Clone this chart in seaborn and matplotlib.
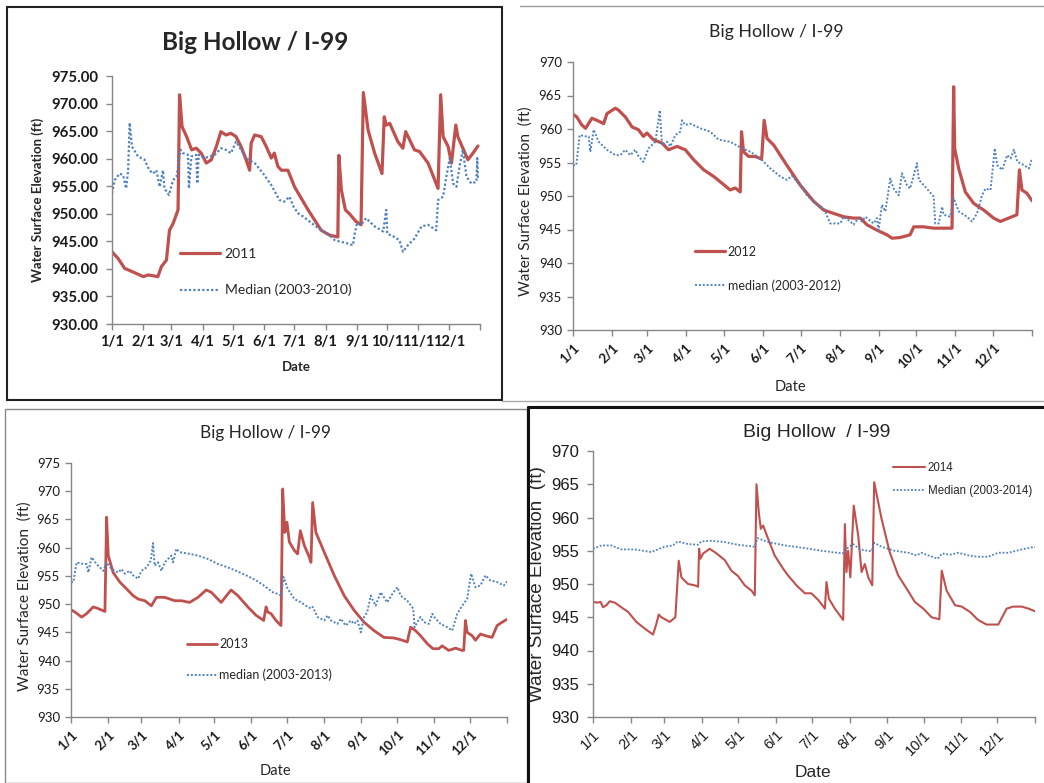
import numpy as np
import pandas as pd
import matplotlib
matplotlib.use("Agg")
import matplotlib.pyplot as plt
from matplotlib.lines import Line2D
from matplotlib.patches import Rectangle
import seaborn as sns

# ---------------- data (day of year, water surface elevation in ft) ----------------
month_ticks = [0, 31, 59, 90, 120, 151, 181, 212, 243, 273, 304, 334, 365]
month_labels = ["1/1", "2/1", "3/1", "4/1", "5/1", "6/1", "7/1", "8/1", "9/1",
                "10/1", "11/1", "12/1", ""]

d11 = [0, 6, 12.5, 22.5, 31, 36, 45.5, 49, 54, 57, 60.5, 65.5, 67, 69.5, 74, 79, 83.5, 88.5,
       93.5, 98.5, 103.5, 108, 113, 118, 123, 128, 133, 136.5, 138, 141.5, 148, 153, 158, 161,
       164.5, 168, 174.5, 181, 194.5, 207.5, 216, 224, 225, 227.5, 231.5, 235.5, 242, 247,
       249.3, 254, 260.5, 267.8, 270, 272, 275.5, 283.5, 288.5, 291.3, 300, 305, 313.5, 323.4,
       326, 328.4, 333.4, 336.7, 341, 343, 348, 353, 358, 363]
v11 = [943.1, 941.9, 940.1, 939.3, 938.6, 938.9, 938.6, 940.4, 941.6, 947.0, 948.2, 950.7,
       971.6, 965.8, 964.0, 961.6, 961.9, 961.0, 959.2, 959.8, 962.2, 964.9, 964.3, 964.6,
       964.0, 962.2, 959.8, 957.9, 962.8, 964.3, 964.0, 962.2, 960.1, 961.0, 958.6, 957.9,
       957.9, 954.9, 950.7, 947.0, 946.1, 945.8, 960.6, 954.3, 950.7, 950.0, 948.6, 948.0,
       972.0, 965.2, 961.0, 957.3, 967.6, 966.1, 966.4, 963.1, 961.9, 964.9, 961.6, 961.3,
       959.2, 954.6, 971.6, 964.0, 962.2, 959.2, 966.1, 964.0, 961.9, 959.8, 961.0, 962.3]

dm10 = [0, 2.6, 7.6, 11, 14, 16, 17.5, 19.8, 25.8, 32.4, 37, 40.7, 44, 47.3, 50.6, 52, 56.5,
        60.5, 64, 66, 68, 70.4, 75.4, 76.3, 78.7, 83.6, 84.6, 86, 92, 101.8, 108.4, 113, 118,
        123, 128, 135, 141.5, 150, 158, 166, 171, 176, 180, 184.5, 189.6, 198, 207.6, 214, 221,
        227.5, 234, 239, 240.7, 243, 247, 252, 260.6, 269, 272, 273, 280, 285, 288.7, 293.5,
        300, 307, 313.5, 321.6, 323.4, 328.4, 331.6, 335, 338.3, 341.6, 345, 348, 351.6, 356.4,
        361.4, 362.3, 363]
vm10 = [953.7, 956.1, 957.3, 957.0, 954.6, 957.9, 966.5, 962.2, 960.4, 959.8, 957.9, 957.3,
        957.9, 954.9, 957.9, 954.6, 953.4, 956.1, 956.7, 959.2, 961.6, 961.0, 960.7, 954.6,
        960.4, 960.7, 955.5, 960.7, 960.1, 960.7, 961.9, 961.6, 961.0, 963.1, 961.6, 959.8,
        959.2, 957.3, 955.2, 952.5, 952.2, 953.1, 951.3, 950.1, 949.5, 948.3, 947.0, 946.4,
        945.2, 944.9, 944.6, 944.3, 946.4, 948.3, 948.0, 949.2, 947.7, 946.8, 950.7, 946.4,
        945.8, 945.2, 943.1, 944.3, 945.5, 947.7, 948.0, 947.0, 952.5, 953.1, 956.7, 960.1,
        955.5, 954.9, 958.9, 961.6, 956.7, 955.5, 955.8, 960.1, 956.1]

d12 = [0, 3, 7, 10, 15, 19, 24.4, 27, 33.7, 36.3, 41.6, 47, 52, 56, 58.8, 64, 70.8, 76, 82.7,
       89.3, 96, 104, 112, 118.5, 125, 129, 133, 134, 135.6, 139.7, 145, 150, 152, 154.3,
       159.6, 170, 180.8, 191.4, 199.4, 207.3, 215.3, 223, 228.5, 233.8, 241.7, 249.7, 253.7,
       260, 268, 271, 278.8, 286.8, 294.7, 301.4, 302.7, 303.5, 306.7, 312, 318.6, 326.6,
       334.5, 339.8, 346.4, 353, 355, 357, 361, 365]
v12 = [962.2, 961.8, 960.6, 960.1, 961.6, 961.3, 960.8, 962.3, 963.1, 962.8, 961.8, 960.3,
       959.9, 958.9, 959.4, 958.4, 957.9, 956.9, 957.4, 956.9, 955.4, 953.9, 952.9, 951.9,
       950.9, 951.2, 950.6, 959.6, 956.6, 955.9, 955.9, 955.5, 961.3, 958.6, 957.6, 954.6,
       951.6, 949.2, 947.9, 947.4, 946.9, 946.7, 946.7, 945.7, 944.9, 944.2, 943.7, 943.8,
       944.2, 945.4, 945.4, 945.2, 945.2, 945.2, 966.3, 957.1, 954.1, 950.6, 948.9, 947.9,
       946.7, 946.2, 946.7, 947.2, 953.9, 950.9, 950.4, 949.3]

dm12 = [0, 2.6, 5.3, 10, 12.5, 13.8, 16.4, 20.4, 27, 33.7, 37.6, 41.6, 45.6, 49.6, 52.2, 56,
        60, 65.5, 69, 70.8, 74.7, 77.4, 81.4, 85.3, 86.7, 89.3, 93.3, 101.3, 109.2, 115.8, 125,
        131.7, 134.4, 141, 149, 157, 164.9, 170.2, 174, 180.8, 186, 194, 199.3, 204.6, 212.6,
        215, 220.5, 223, 227, 229.8, 232.5, 239, 241.7, 243, 245.7, 248.4, 252.3, 255, 259,
        261.6, 265.6, 268, 271, 273.5, 275, 280, 286.8, 288, 290.8, 293.5, 294.7, 300, 302.7,
        306.7, 313.3, 317.3, 321.3, 325.3, 328, 332, 335.4, 337.3, 341.3, 345.3, 348, 350.6,
        353.3, 358.6, 362.6, 365]
vm12 = [954.6, 954.6, 959.1, 958.9, 958.9, 956.6, 959.9, 958.1, 956.9, 956.1, 956.1, 956.9,
        956.1, 956.9, 955.9, 955.1, 957.1, 958.1, 962.8, 957.6, 958.1, 957.4, 959.1, 959.6,
        961.3, 960.6, 960.8, 960.1, 959.6, 958.4, 958.1, 957.4, 957.1, 956.6, 955.6, 954.1,
        952.9, 952.4, 953.0, 951.6, 950.1, 948.7, 948.2, 945.9, 945.9, 946.9, 946.2, 945.7,
        946.7, 946.2, 946.9, 945.9, 946.7, 944.9, 948.7, 947.7, 952.6, 951.1, 950.1, 953.4,
        951.6, 951.1, 953.1, 954.9, 952.4, 951.4, 949.9, 945.9, 945.9, 948.4, 947.2, 946.9,
        949.7, 947.7, 946.9, 946.2, 947.4, 950.1, 951.1, 950.9, 957.1, 954.6, 953.9, 956.1,
        955.6, 956.9, 955.1, 954.6, 954.1, 955.6]

d13 = [0, 3.3, 8.9, 13, 18.6, 22.8, 28.4, 29.8, 31.2, 35.3, 40.9, 46.5, 52, 56.2, 61.8, 67.3,
       71.5, 78.5, 86.8, 92.4, 99.3, 106.3, 113.2, 117.4, 125.7, 134, 139.7, 148, 155, 161.3,
       163.3, 164.7, 167.5, 171.6, 175.8, 177.2, 179, 180.8, 182.8, 187, 189.7, 192, 195.3,
       199.5, 200.9, 202.3, 205, 212, 220.3, 228.7, 237, 245.3, 253.7, 262, 270.3, 275.9,
       281.5, 284.3, 288.4, 292.6, 298.2, 303, 307.9, 310.7, 316.3, 321.9, 327.4, 328.8,
       330.2, 331.6, 335.8, 338.6, 342.8, 347, 352.5, 356.7, 360.9, 365]
v13 = [949.0, 948.6, 947.7, 948.3, 949.5, 949.2, 948.7, 965.4, 958.6, 955.6, 953.9, 952.7,
       951.5, 950.9, 950.6, 949.7, 951.2, 951.2, 950.6, 950.6, 950.3, 951.2, 952.5, 952.1,
       950.3, 952.5, 951.5, 949.5, 948.0, 947.1, 949.5, 948.6, 948.3, 947.1, 946.2, 970.4,
       962.7, 964.5, 961.0, 959.5, 958.9, 963.0, 960.4, 958.3, 957.4, 968.0, 962.7, 959.2,
       955.1, 951.5, 948.9, 946.8, 945.3, 944.1, 944.0, 943.7, 943.3, 945.9, 945.3, 944.4,
       943.0, 942.1, 942.1, 942.6, 941.8, 942.2, 941.8, 941.8, 947.1, 945.0, 944.4, 943.6,
       944.7, 944.4, 944.1, 946.2, 946.8, 947.3]

dm13 = [0, 2, 4.7, 10.3, 13, 14.5, 17.2, 21.4, 27, 29.8, 34, 39.5, 42.3, 45, 49.2, 52, 56.2,
        59, 63.2, 66.8, 68.7, 70, 72.9, 75.7, 78.5, 81.2, 84, 85.4, 88.2, 91, 99.3, 106.3,
        114.6, 123, 131.3, 138.3, 146.6, 155, 161.4, 168.9, 173, 175.8, 178, 181.4, 187,
        192.6, 196.7, 200.9, 202.3, 206.5, 212, 214.8, 217.6, 223, 225.9, 230, 234.2, 237,
        239.8, 242.6, 245.3, 248, 250.9, 255, 259.2, 264.8, 269, 273.2, 276, 281.5, 286.5,
        287.6, 289.9, 292.6, 295.4, 299.6, 302.4, 305.2, 309.4, 315, 319.1, 323.3, 326, 328.8,
        331.6, 335, 338.6, 342.8, 347, 351, 356.7, 362.3, 365]
vm13 = [953.9, 953.9, 957.4, 957.1, 957.1, 955.6, 958.3, 957.1, 955.9, 957.4, 956.2, 955.6,
        956.2, 955.4, 955.9, 955.1, 954.5, 955.9, 956.5, 957.7, 960.8, 956.8, 957.4, 955.9,
        957.4, 958.0, 958.6, 957.4, 959.8, 959.2, 958.9, 958.6, 958.0, 957.1, 956.5, 955.9,
        955.1, 954.2, 953.3, 952.1, 951.8, 951.5, 954.8, 952.7, 950.9, 950.3, 949.7, 949.2,
        949.5, 947.7, 947.1, 948.0, 947.1, 946.5, 947.4, 946.2, 947.1, 946.5, 947.1, 945.0,
        947.7, 948.6, 951.5, 949.7, 952.1, 950.3, 951.8, 953.0, 951.5, 950.6, 949.2, 945.9,
        946.8, 947.7, 946.8, 946.5, 948.3, 947.4, 946.5, 945.9, 945.3, 948.3, 949.2, 950.1,
        950.9, 955.4, 953.0, 953.3, 955.1, 954.2, 953.9, 953.3, 954.0]

d14 = [0, 4, 6.3, 8.3, 11, 13.8, 18, 23.4, 29, 35.8, 42.7, 49.6, 52.3, 54.3, 56.5, 63.4, 68,
       70.8, 73, 78.5, 84, 86.8, 87.6, 88.7, 91, 96.4, 102, 108.8, 114.3, 119.7, 125.3, 130.9,
       133.6, 135, 137, 138.6, 140.5, 144.6, 150, 157, 161, 168, 175, 180.3, 186, 191.5,
       192.8, 194.8, 199.7, 206.6, 208, 209.3, 210.7, 212.5, 215.3, 219, 221.8, 224.5, 227.3,
       230.6, 232.2, 238.3, 245, 252, 259, 265.8, 272.7, 279.6, 286, 288, 292, 299, 304.5,
       311.3, 318, 325, 334.7, 341.6, 347, 354, 359.6, 365]
v14 = [947.3, 947.2, 947.3, 946.5, 946.8, 947.4, 947.2, 946.5, 945.8, 944.3, 943.3, 942.4,
       944.0, 945.4, 945.0, 944.3, 945.0, 953.5, 951.0, 950.0, 949.8, 949.6, 955.3, 953.8,
       954.6, 955.3, 954.6, 953.6, 952.0, 951.2, 949.8, 949.0, 948.3, 965.0, 960.6, 958.3,
       958.8, 956.8, 954.3, 952.3, 951.3, 949.8, 948.6, 948.6, 947.6, 946.3, 950.3, 947.8,
       946.3, 944.6, 959.0, 951.8, 955.0, 951.0, 961.8, 957.3, 951.8, 953.0, 951.0, 949.8,
       965.3, 959.8, 954.8, 951.3, 949.3, 947.3, 946.3, 945.0, 944.7, 952.0, 949.0, 946.8,
       946.6, 945.8, 944.6, 943.9, 943.9, 946.3, 946.6, 946.6, 946.3, 945.9]

dm14 = [0, 7, 15, 23.4, 34.4, 48, 59, 66, 70, 78.5, 86.8, 89.5, 97.8, 108.8, 119.8, 133.6,
        135.8, 144.6, 158.4, 175, 188.7, 197, 206.6, 209.3, 214.9, 220.4, 230, 232.2, 238.3,
        249, 260.3, 267.2, 271.3, 276.8, 284.6, 288.4, 294.8, 301.6, 310, 318, 326.4, 334.7,
        343, 354, 365]
vm14 = [955.3, 955.8, 955.8, 955.2, 955.2, 954.8, 955.6, 955.8, 956.4, 956.0, 955.9, 956.4,
        956.5, 956.3, 955.9, 955.6, 956.9, 956.3, 955.8, 955.4, 955.0, 954.8, 954.6, 955.3,
        956.0, 955.2, 954.9, 956.2, 955.6, 955.0, 954.7, 954.3, 954.7, 954.3, 953.8, 954.6,
        954.4, 954.7, 954.3, 954.1, 954.1, 954.7, 954.7, 955.2, 955.6]

# ---------------- styling ----------------
sns.set_theme(style="white")
plt.rcParams["font.family"] = ["Lato", "DejaVu Sans"]

W, H = 1044, 783
RED = "#C0504D"
BLUE = "#4F81BD"
SPINE = "#868686"

fig = plt.figure(figsize=(W / 100, H / 100), dpi=100)
fig.patch.set_facecolor("white")


def add_axes_px(left, right, top, bottom):
    return fig.add_axes([left / W, 1 - bottom / H, (right - left) / W, (bottom - top) / H])


def style_axes(ax, ylim, yticks, yfmt, family, ytick_size, xtick_size, xbold, ybold, rot,
               ypad):
    ax.set_xlim(0, 365)
    ax.set_ylim(*ylim)
    ax.set_facecolor("white")
    for s in ["top", "right"]:
        ax.spines[s].set_visible(False)
    for s in ["left", "bottom"]:
        ax.spines[s].set_color(SPINE)
        ax.spines[s].set_linewidth(1.0)
    ax.set_yticks(yticks)
    ax.set_yticklabels([yfmt.format(v) for v in yticks], family=family,
                       fontsize=ytick_size, fontweight="bold" if ybold else "normal")
    ax.set_xticks(month_ticks)
    if rot:
        ax.set_xticklabels(month_labels, rotation=45, ha="right", rotation_mode="anchor",
                           family=family, fontsize=xtick_size,
                           fontweight="bold" if xbold else "normal")
    else:
        ax.set_xticklabels(month_labels, family=family, fontsize=xtick_size,
                           fontweight="bold" if xbold else "normal")
    ax.tick_params(axis="both", direction="out", length=4, width=1, color=SPINE,
                   labelcolor="#1a1a1a", left=True, bottom=True)
    ax.tick_params(axis="y", pad=ypad)
    ax.tick_params(axis="x", pad=4)
    ax.grid(False)


def draw_series(ax, dx, dy, dmx, dmy, lab, labm, lw_red, lw_blue):
    sns.lineplot(x=dx, y=dy, ax=ax, color=RED, linewidth=lw_red, label=lab,
                 estimator=None, sort=False)
    sns.lineplot(x=dmx, y=dmy, ax=ax, color=BLUE, linewidth=lw_blue, linestyle=(0, (1, 1)),
                 label=labm, estimator=None, sort=False)


LATO = ["Lato", "DejaVu Sans"]
ARIAL = ["Liberation Sans", "DejaVu Sans"]

# ---------------- Panel 1 : 2011 ----------------
ax1 = add_axes_px(112, 480, 76, 324)
draw_series(ax1, d11, v11, dm10, vm10, "2011", "Median (2003-2010)", 2.3, 1.6)
style_axes(ax1, (930, 975), list(range(930, 976, 5)), "{:.2f}", LATO,
           10.8, 10.5, True, True, False, 6)
ax1.set_ylabel("Water Surface Elevation (ft)", fontsize=9.5, fontweight="bold")
ax1.yaxis.set_label_coords(-0.185, 0.5)
ax1.set_xlabel("Date", fontsize=9.5, fontweight="bold")
ax1.xaxis.set_label_coords(0.5, -0.15)
ax1.text(0.389, 1.137, "Big Hollow / I-99", transform=ax1.transAxes, ha="center",
         va="center", fontsize=17.5, fontweight="bold")
ax1.legend(loc="center left", bbox_to_anchor=(0.185, 0.208), frameon=False, fontsize=10,
           handlelength=2.9, handletextpad=0.3, labelspacing=1.7, borderpad=0,
           borderaxespad=0)

# ---------------- Panel 2 : 2012 ----------------
ax2 = add_axes_px(573, 1032, 62, 330)
draw_series(ax2, d12, v12, dm12, vm12, "2012", "median (2003-2012)", 2.3, 1.4)
style_axes(ax2, (930, 970), list(range(930, 971, 5)), "{:d}", LATO,
           9.5, 9.5, True, False, True, 4)
ax2.set_ylabel("Water Surface Elevation  (ft)", fontsize=11)
ax2.yaxis.set_label_coords(-0.088, 0.48)
ax2.set_xlabel("Date", fontsize=10.5)
ax2.xaxis.set_label_coords(0.473, -0.185)
ax2.text(0.444, 1.112, "Big Hollow / I-99", transform=ax2.transAxes, ha="center",
         va="center", fontsize=12.8)
ax2.legend(loc="center left", bbox_to_anchor=(0.266, 0.229), frameon=False, fontsize=9,
           handlelength=2.4, handletextpad=0.2, labelspacing=1.7, borderpad=0,
           borderaxespad=0)

# ---------------- Panel 3 : 2013 ----------------
ax3 = add_axes_px(71, 507, 463, 717)
draw_series(ax3, d13, v13, dm13, vm13, "2013", "median (2003-2013)", 2.0, 1.4)
style_axes(ax3, (930, 975), list(range(930, 976, 5)), "{:d}", LATO,
           9.5, 9.5, True, False, True, 4)
ax3.set_ylabel("Water Surface Elevation  (ft)", fontsize=11)
ax3.yaxis.set_label_coords(-0.09, 0.476)
ax3.set_xlabel("Date", fontsize=10.5)
ax3.xaxis.set_label_coords(0.47, -0.185)
ax3.text(0.445, 1.118, "Big Hollow / I-99", transform=ax3.transAxes, ha="center",
         va="center", fontsize=12.4)
ax3.legend(loc="center left", bbox_to_anchor=(0.266, 0.226), frameon=False, fontsize=9,
           handlelength=2.4, handletextpad=0.2, labelspacing=1.5, borderpad=0,
           borderaxespad=0)

# ---------------- Panel 4 : 2014 ----------------
ax4 = add_axes_px(593, 1035, 451, 717)
draw_series(ax4, d14, v14, dm14, vm14, "2014", "Median (2003-2014)", 1.5, 1.3)
style_axes(ax4, (930, 970), list(range(930, 971, 5)), "{:d}", ARIAL,
           12, 10.5, False, False, True, 6)
ax4.set_ylabel("Water Surface Elevation  (ft)", fontsize=13.6, family=ARIAL)
ax4.yaxis.set_label_coords(-0.106, 0.5)
ax4.set_xlabel("Date", fontsize=12.5, family=ARIAL)
ax4.xaxis.set_label_coords(0.498, -0.18)
ax4.text(0.507, 1.068, "Big Hollow  / I-99", transform=ax4.transAxes, ha="center",
         va="center", fontsize=14, family=ARIAL)
ax4.legend(loc="center left", bbox_to_anchor=(0.679, 0.893), frameon=False,
           prop={"family": ARIAL, "size": 8.3},
           handlelength=2.8, handletextpad=0.2, labelspacing=0.9, borderpad=0,
           borderaxespad=0)

# ---------------- panel frames ----------------
def px_line(x0, y0, x1, y1, color, lw):
    fig.add_artist(Line2D([x0 / W, x1 / W], [1 - y0 / H, 1 - y1 / H],
                          transform=fig.transFigure, color=color, linewidth=lw))


fig.add_artist(Rectangle((7 / W, 1 - 400 / H), (502 - 7) / W, (400 - 7) / H,
                         transform=fig.transFigure, fill=False, edgecolor="#222222",
                         linewidth=1.5))
px_line(520, 6, 1044, 6, "#999999", 1.0)
px_line(502, 401, 1044, 401, "#aaaaaa", 1.0)
fig.add_artist(Rectangle((5 / W, 0), (527 - 5) / W, 1 - 409 / H,
                         transform=fig.transFigure, fill=False, edgecolor="#888888",
                         linewidth=1.0))
px_line(528, 407, 1044, 407, "#111111", 2.2)
px_line(528, 407, 528, 783, "#111111", 2.2)

fig.savefig("out.png", dpi=100, facecolor="white")
